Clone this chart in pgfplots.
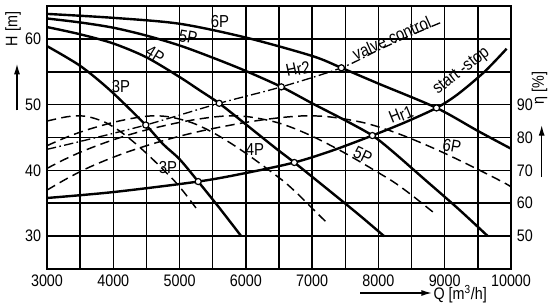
\documentclass[border=0pt]{standalone}
\usepackage{fontspec}
\setmainfont{Liberation Sans}[FakeStretch=0.86]
\usepackage{pgfplots}
\pgfplotsset{compat=1.18}
\usetikzlibrary{arrows.meta}
\begin{document}
\fontsize{12.5}{14}\selectfont
\begin{tikzpicture}
\tikzset{lab/.style={font=\fontsize{13}{15}\selectfont, inner sep=0pt}}
\pgfplotsset{
  base/.style={
    at={(0pt,0pt)}, anchor=south west,
    scale only axis, width=348pt, height=197.25pt,
    xmin=3000, xmax=10000,
    tick style={draw=none},
    scaled x ticks=false, scaled y ticks=false,
    /pgf/number format/assume math mode=true,
    /pgf/number format/1000 sep={},
    ticklabel style={font=\fontsize{12.5}{14}\selectfont},
  },
  pump/.style={black, line width=1.8pt, smooth, tension=0.5, no marks},
  eff/.style={black, line width=1.1pt, smooth, tension=0.5, no marks, dash pattern=on 7pt off 4pt},
  pt/.style={only marks, mark=*, mark size=2.3pt, mark options={fill=white, draw=black, line width=0.9pt, solid}},
}
% ---------------- main axis: H [m]
\begin{axis}[base,
  ymin=25, ymax=65,
  xtick={3000,3500,...,10000},
  xticklabels={3000,,4000,,5000,,6000,,7000,,8000,,9000,,10000},
  ytick={25,30,...,65},
  yticklabels={,30,,40,,50,,60,},
  xmajorgrids, ymajorgrids,
  major grid style={black, line width=1.15pt},
  axis line style={black, line width=1.2pt},
]
% pump head curves
\addplot[pump] coordinates {(3000,58.9)(3500,55.9)(3950,52.2)(4490,46.9)(4750,44.0)(5000,41.7)(5281,38.3)(5600,34.3)(5930,30.0)};
\addplot[pump] coordinates {(3000,61.8)(3500,60.7)(4000,59.3)(4500,57.2)(5000,54.2)(5300,52.2)(5598,50.2)(6000,47.0)(6459,43.3)(6731,41.2)(7200,37.4)(7700,33.3)(8085,30.0)};
\addplot[pump] coordinates {(3000,63.1)(3500,62.5)(4000,61.7)(4500,60.5)(5000,59.0)(5459,57.3)(5957,55.3)(6535,52.7)(7000,50.2)(7500,47.6)(7909,45.3)(8200,43.0)(8700,38.6)(9200,34.2)(9650,30.0)};
\addplot[pump] coordinates {(3000,63.8)(4000,63.2)(5000,62.3)(6000,60.2)(7000,57.4)(7441,55.6)(8000,53.2)(8876,49.5)(9500,46.0)(10000,43.3)};
% Hr1 start-stop
\addplot[pump] coordinates {(3000,35.8)(4000,36.7)(5281,38.3)(6000,39.6)(6731,41.2)(7300,43.0)(7909,45.3)(8400,47.3)(8876,49.5)(9200,51.6)(9600,55.0)(9934,58.5)};
% Hr2 valve control
\addplot[black, line width=1.0pt, smooth, tension=0.5, no marks, dash pattern=on 7pt off 2.5pt on 1.2pt off 2.5pt]
  coordinates {(3000,43.2)(3500,44.4)(4490,46.9)(5598,50.2)(6535,52.7)(7441,55.6)(8000,58.3)(8500,60.6)(8970,62.6)};
% operating points
\addplot[pt] coordinates {(4490,46.9)(5598,50.2)(6535,52.7)(7441,55.6)};
\addplot[pt] coordinates {(5281,38.3)(6731,41.2)(7909,45.3)(8876,49.5)};
% labels
\node[lab] at (axis cs:5610,62.6) {6P};
\node[lab, rotate=-10] at (axis cs:5130,60.3) {5P};
\node[lab, rotate=-32] at (axis cs:4629,57.6) {4P};
\node[lab] at (axis cs:4116,52.8) {3P};
\node[lab, rotate=12] at (axis cs:6787,55.4) {H\raisebox{-1pt}{r2}};
\node[lab, rotate=24, anchor=south west] at (axis cs:7660,56.6) {valve control};
\node[lab, rotate=38, anchor=south west] at (axis cs:8930,51.0) {start -stop};
\node[lab, rotate=22] at (axis cs:8340,48.5) {H\raisebox{-1pt}{r1}};
\node[lab] at (axis cs:4825,40.4) {3P};
\node[lab] at (axis cs:6138,43.1) {4P};
\node[lab, rotate=-25] at (axis cs:7767,42.3) {5P};
\node[lab, rotate=-10] at (axis cs:9110,43.7) {6P};
\end{axis}
% ---------------- secondary axis: eta [%]
\begin{axis}[base,
  ymin=40, ymax=120,
  axis y line*=right, axis x line=none,
  axis line style={draw=none},
  ytick={50,60,70,80,90},
]
\addplot[eff] coordinates {(3000,85.0)(3150,85.7)(3300,86.3)(3450,86.6)(3600,86.4)(3750,85.6)(3900,84.4)(4050,82.6)(4200,80.4)(4350,77.9)(4500,75.2)(4650,72.3)(4800,69.3)(4950,66.2)(5100,62.5)(5250,58.5)};
\addplot[eff] coordinates {(3000,77.5)(3200,79.3)(3400,80.9)(3600,82.3)(3800,83.5)(4000,84.6)(4200,85.5)(4400,86.2)(4600,86.6)(4800,86.4)(5000,85.6)(5200,84.4)(5400,82.6)(5600,80.4)(5800,77.9)(6000,75.2)(6200,72.3)(6400,69.3)(6600,66.2)(6800,62.5)(7000,58.5)(7200,54.5)};
\addplot[eff] coordinates {(3000,70.6)(3250,73.2)(3500,75.5)(3750,77.5)(4000,79.3)(4250,80.9)(4500,82.3)(4750,83.5)(5000,84.6)(5250,85.5)(5500,86.2)(5750,86.6)(6000,86.4)(6250,85.6)(6500,84.4)(6750,82.6)(7000,80.4)(7250,77.9)(7500,75.2)(7750,72.3)(8000,69.3)(8250,66.2)(8500,62.5)(8750,58.5)(8875,56.5)};
\addplot[eff] coordinates {(3000,64.0)(3300,67.5)(3600,70.6)(3900,73.2)(4200,75.5)(4500,77.5)(4800,79.3)(5100,80.9)(5400,82.3)(5700,83.5)(6000,84.6)(6300,85.5)(6600,86.2)(6900,86.6)(7200,86.4)(7500,85.6)(7800,84.4)(8100,82.6)(8400,80.4)(8700,77.9)(9000,75.2)(9300,72.3)(9600,69.3)(9900,66.2)(10000,65.0)};
\end{axis}
% ---------------- axis titles with arrows
\node[rotate=90] at (-25.5pt,180pt) {H [m]};
\draw[line width=1pt, -{Latex[length=8pt,width=4.5pt]}] (-22.5pt,119pt) -- (-22.5pt,154pt);
\node[rotate=90] at (369.5pt,135.75pt) {η [\%]};
\draw[line width=1pt, -{Latex[length=8pt,width=4.5pt]}] (371pt,69pt) -- (371pt,108pt);
\draw[line width=1pt, -{Latex[length=8pt,width=4.5pt]}] (234.75pt,-18pt) -- (288.75pt,-18pt);
\node[anchor=west, inner sep=1pt] at (288.75pt,-19pt) {Q [m\textsuperscript{3}/h]};
\pgfresetboundingbox
\path[use as bounding box] (-35.25pt,-26.25pt) rectangle (377.25pt,201.75pt);
\end{tikzpicture}
\end{document}
